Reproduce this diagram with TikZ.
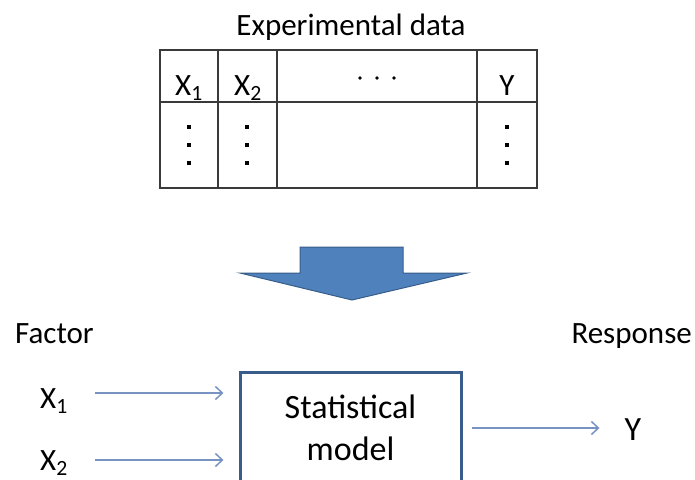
\documentclass[tikz,border=0pt]{standalone}
\usepackage{fontspec}
\setmainfont{Carlito}
\usepackage{xcolor}
\usetikzlibrary{arrows.meta,positioning}
\definecolor{arrowfill}{HTML}{4F81BD}
\definecolor{arrowedge}{HTML}{385D8A}
\definecolor{flowline}{HTML}{7893C2}
\definecolor{gridline}{HTML}{3A3A3A}
\tikzset{x=1pt,y=-1pt,
  every node/.style={font=\fontsize{31}{37}\selectfont,inner sep=0pt},
  grid/.style={draw=gridline,line width=1.8pt},
  bigarrow/.style={fill=arrowfill,draw=arrowedge,line width=1pt,line join=miter},
  flow/.style={draw=flowline,line width=1.7pt,-{Straight Barb[length=7pt,width=13pt,line width=1.5pt]}},
  model/.style={draw=arrowedge,line width=3pt,minimum width=221pt,minimum height=112pt,align=center,
    font=\fontsize{34}{42}\selectfont}}

\begin{document}
\begin{tikzpicture}
    \useasboundingbox (0,0) rectangle (695,479);
    \clip (0,0) rectangle (695,479);
    % data table
    \node[anchor=base] (title) at (351,35) {Experimental data};
    \draw[grid] (160,50) rectangle (537,188);
    \draw[grid] (160,102) -- (537,102);
    \foreach \x in {218,277,477} \draw[grid] (\x,50) -- (\x,188);
    \node[anchor=base] (h1) at (189,95) {X\textsubscript{1}};
    \node[anchor=base] (h2) at (248,95) {X\textsubscript{2}};
    \node[anchor=base] (hy) at (507,95) {Y};
    \foreach \x in {360,377,394} \fill (\x,78) circle (1.8);
    \foreach \x in {189,247,507}
      \foreach \y in {127,145,163} \fill (\x-2.2,\y-2.2) rectangle (\x+2.2,\y+2.2);
    % block arrow
    \draw[bigarrow] (300,247) -- (403,247) -- (403,273) -- (467,273) -- (352,300)
      -- (240,273) -- (300,273) -- cycle;
    % model with inputs and output
    \node[anchor=base west] (factor) at (15,343) {Factor};
    \node[anchor=base east] (response) at (692,343) {Response};
    \node[model] (box) at (350.5,428) {Statistical\\model};
    \node[anchor=base west] (x1) at (40,408) {X\textsubscript{1}};
    \node[anchor=base west] (x2) at (40,470) {X\textsubscript{2}};
    \node[anchor=base,font=\fontsize{34}{40}\selectfont] (yout) at (633,440) {Y};
    \coordinate (in1) at (95,393);
    \coordinate (in2) at (95,460);
    \draw[flow,shorten >=15pt] (in1) -- (in1 -| box.west);
    \draw[flow,shorten >=15pt] (in2) -- (in2 -| box.west);
    \draw[flow,shorten <=9pt,shorten >=25pt] (box.east) -- (box.east -| yout.west);
\end{tikzpicture}
\end{document}
